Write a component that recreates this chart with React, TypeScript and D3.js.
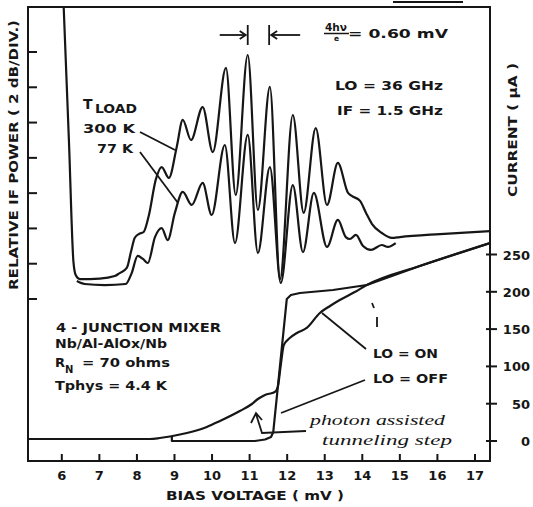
import * as d3 from "d3";

// Chart size and plot frame (pixels)
const width = 533;
const height = 507;
const frameLeft = 28;
const frameRight = 490;
const frameTop = 7;
const frameBottom = 461;

// IF output power vs bias, T_load = 300 K  (mV, dB)
const bias300K = [6.05, 6.19, 6.31, 6.37, 6.48, 7.01, 7.41, 7.54, 7.73, 7.84, 7.94, 8.05, 8.18, 8.32, 8.5, 8.66, 8.85, 9.06, 9.22, 9.44, 9.75, 10.02, 10.37, 10.63, 10.95, 11.22, 11.54, 11.81, 12.15, 12.44, 12.76, 13.06, 13.35, 13.62, 13.72, 13.94, 14.1, 14.26, 14.52, 14.79, 15.0, 16.07, 17.4];
const power300K = [16.55, 8.96, 2.1, 1.36, 1.13, 1.16, 1.3, 1.47, 1.76, 2.66, 3.46, 3.68, 3.8, 4.76, 6.75, 7.48, 6.86, 8.62, 10.15, 9.01, 10.88, 8.33, 13.1, 5.9, 13.83, 5.05, 12.02, 1.13, 10.43, 4.88, 9.69, 5.33, 7.71, 6.01, 5.84, 5.56, 4.88, 4.25, 3.74, 3.46, 3.51, 3.68, 3.85];

// T_load = 77 K
const bias77K = [6.4, 6.61, 7.15, 7.7, 7.86, 8.02, 8.16, 8.29, 8.48, 8.66, 8.82, 9.01, 9.22, 9.46, 9.75, 9.99, 10.34, 10.61, 10.95, 11.22, 11.54, 11.83, 12.15, 12.42, 12.71, 13.06, 13.35, 13.56, 13.67, 13.83, 14.02, 14.23, 14.52, 14.68, 14.89];
const power77K = [1.02, 0.85, 0.79, 0.85, 1.47, 2.44, 2.27, 2.04, 3.51, 4.02, 3.34, 4.88, 6.07, 5.33, 6.58, 4.76, 8.73, 3.17, 9.3, 2.61, 7.48, 0.91, 6.46, 2.66, 6.01, 2.95, 4.48, 3.51, 3.4, 3.63, 3.0, 2.78, 3.06, 2.95, 3.17];

// I-V curves (mV, uA)
const biasLoOn = [5.1, 8.34, 8.61, 8.88, 9.33, 9.86, 10.21, 10.74, 11.06, 11.22, 11.41, 11.67, 11.75, 11.83, 11.91, 12.07, 12.26, 12.52, 12.87, 13.14, 13.4, 13.8, 14.12, 15.53, 17.4];
const currentLoOn = [2.7, 2.7, 4.0, 6.0, 10.7, 18.8, 26.8, 40.2, 49.6, 56.3, 61.7, 65.7, 72.4, 101.9, 128.7, 138.1, 144.8, 151.5, 171.6, 181.0, 189.0, 199.7, 209.1, 234.6, 265.4];
const biasLoOff = [8.93, 8.93, 11.14, 11.41, 11.57, 11.63, 11.99, 12.1, 12.34, 13.22, 13.67, 14.12, 15.53, 17.4];
const currentLoOff = [5.4, 0, 0, 2.0, 5.4, 12.1, 190.4, 195.7, 198.4, 202.4, 205.8, 209.1, 234.6, 265.4];

// ticks
const biasTicks = [6, 7, 8, 9, 10, 11, 12, 13, 14, 15, 16, 17];
const powerTicks = [0, 2, 4, 6, 8, 10, 12, 14];
const currentTicks = [0, 50, 100, 150, 200, 250];

// 4hv/e marker positions (mV)
const stepLeft = 10.95;
const stepRight = 11.52;

const ink = "#161616";
const font = "'DejaVu Sans', sans-serif";
const hand = "'Liberation Serif', serif";

const x = d3.scaleLinear().domain([5.1, 17.4]).range([frameLeft, frameRight]);
const yPow = d3.scaleLinear().domain([0, 14]).range([299, 52]);
const yCur = d3.scaleLinear().domain([0, 250]).range([441, 254.5]);

const powerLine = d3
  .line<[number, number]>()
  .x((d) => x(d[0]))
  .y((d) => yPow(d[1]))
  .curve(d3.curveMonotoneX);

const onLine = d3
  .line<[number, number]>()
  .x((d) => x(d[0]))
  .y((d) => yCur(d[1]))
  .curve(d3.curveMonotoneX);

const offLine = d3
  .line<[number, number]>()
  .x((d) => x(d[0]))
  .y((d) => yCur(d[1]));

const zip = (a: number[], b: number[]) => a.map((v, i) => [v, b[i]] as [number, number]);

const Label = (p: any) => (
  <text
    fontFamily={font}
    fontWeight="bold"
    fill={ink}
    lengthAdjust="spacingAndGlyphs"
    {...p}
  />
);

export default function App() {
  return (
    <svg
      width={width}
      height={height}
      style={{ position: "absolute", left: 0, top: 0, display: "block", background: "#fff" }}
    >
      <defs>
        <clipPath id="plot">
          <rect x={frameLeft} y={frameTop} width={frameRight - frameLeft} height={frameBottom - frameTop} />
        </clipPath>
      </defs>

      {/* stray mark above frame */}
      <line x1={393} x2={463} y1={2} y2={2} stroke={ink} strokeWidth={2} />

      {/* frame */}
      <rect
        x={frameLeft}
        y={frameTop}
        width={frameRight - frameLeft}
        height={frameBottom - frameTop}
        fill="none"
        stroke={ink}
        strokeWidth={2}
      />

      {/* left ticks */}
      {powerTicks.map((t) => (
        <line key={t} x1={frameLeft} x2={frameLeft + 9} y1={yPow(t)} y2={yPow(t)} stroke={ink} strokeWidth={2} />
      ))}
      {/* bottom ticks */}
      {biasTicks.map((t) => (
        <g key={t}>
          <line x1={x(t)} x2={x(t)} y1={frameBottom} y2={frameBottom - 7} stroke={ink} strokeWidth={2} />
          <Label x={x(t)} y={480} fontSize={13} textAnchor="middle">{t}</Label>
        </g>
      ))}
      {/* right ticks */}
      {currentTicks.map((t) => (
        <g key={t}>
          <line x1={frameRight - 4} x2={frameRight + 7} y1={yCur(t)} y2={yCur(t)} stroke={ink} strokeWidth={2} />
          <Label x={530} y={yCur(t) + 5} fontSize={13} textAnchor="end">{t}</Label>
        </g>
      ))}

      <g clipPath="url(#plot)" fill="none" stroke={ink} strokeWidth={2.2} strokeLinejoin="round">
        <path d={powerLine(zip(bias300K, power300K)) ?? ""} />
        <path d={powerLine(zip(bias77K, power77K)) ?? ""} />
        <path d={onLine(zip(biasLoOn, currentLoOn)) ?? ""} />
        <path d={offLine(zip(biasLoOff, currentLoOff)) ?? ""} />
      </g>

      {/* pointers */}
      <g stroke={ink} strokeWidth={1.8} fill="none">
        <line x1={140} y1={132} x2={175} y2={150} />
        <line x1={140} y1={152} x2={178} y2={203} />
        <line x1={366} y1={349} x2={322} y2={313} />
        <line x1={365} y1={380} x2={281} y2={413} />
        <path d="M306,431 L262,433 L256,414 M251,423 L256,413 L262,420" />
        <line x1={377} y1={317} x2={377} y2={327} />
        <line x1={372} y1={303} x2={374} y2={308} />
        {/* 4hv/e spacing markers */}
        <line x1={x(stepLeft)} x2={x(stepLeft)} y1={25} y2={45} />
        <line x1={x(stepRight)} x2={x(stepRight)} y1={25} y2={45} />
        <line x1={x(stepLeft) - 28} x2={x(stepLeft) - 2} y1={35} y2={35} />
        <line x1={x(stepRight) + 2} x2={x(stepRight) + 31} y1={35} y2={35} />
        <path d={`M${x(stepLeft) - 8},31 L${x(stepLeft) - 2},35 L${x(stepLeft) - 8},39`} />
        <path d={`M${x(stepRight) + 8},31 L${x(stepRight) + 2},35 L${x(stepRight) + 8},39`} />
        <line x1={324} x2={349} y1={33.5} y2={33.5} strokeWidth={1.5} />
      </g>

      <Label x={325} y={31} fontSize={10} textLength={22}>4hν</Label>
      <Label x={334} y={41} fontSize={7.5}>e</Label>
      <Label x={348} y={38} fontSize={12.5} textLength={100}>= 0.60 mV</Label>

      <Label x={335} y={90} fontSize={13} textLength={108}>LO = 36 GHz</Label>
      <Label x={337} y={115} fontSize={13} textLength={106}>IF = 1.5 GHz</Label>

      <Label x={83} y={109} fontSize={14}>T</Label>
      <Label x={95} y={113} fontSize={11.5} textLength={42}>LOAD</Label>
      <Label x={83} y={133} fontSize={13} textLength={52}>300 K</Label>
      <Label x={97} y={153} fontSize={13} textLength={36}>77 K</Label>

      <Label x={56} y={332} fontSize={12.5} textLength={165}>4 - JUNCTION MIXER</Label>
      <Label x={55} y={348} fontSize={12} textLength={112}>Nb/Al-AlOx/Nb</Label>
      <Label x={55} y={367} fontSize={13}>R</Label>
      <Label x={65} y={373} fontSize={10}>N</Label>
      <Label x={82} y={367} fontSize={13} textLength={88}>= 70 ohms</Label>
      <Label x={55} y={390} fontSize={13} textLength={112}>Tphys = 4.4 K</Label>

      <Label x={373} y={358} fontSize={13} textLength={65}>LO = ON</Label>
      <Label x={373} y={383} fontSize={13} textLength={75}>LO = OFF</Label>

      <text x={310} y={425} fontFamily={hand} fontStyle="italic" fontSize={15.5} fill={ink} textLength={135} lengthAdjust="spacingAndGlyphs">
        photon assisted
      </text>
      <text x={322} y={445} fontFamily={hand} fontStyle="italic" fontSize={15.5} fill={ink} textLength={130} lengthAdjust="spacingAndGlyphs">
        tunneling step
      </text>

      <Label x={255} y={500} fontSize={13} textAnchor="middle" textLength={178}>BIAS VOLTAGE ( mV )</Label>
      <Label transform="translate(17.5,155) rotate(-90)" x={0} y={0} fontSize={12.5} textAnchor="middle" textLength={270}>
        RELATIVE IF POWER ( 2 dB/DIV.)
      </Label>
      <Label transform="translate(516.5,130) rotate(-90)" x={0} y={0} fontSize={13} textAnchor="middle" textLength={134}>
        CURRENT ( μA )
      </Label>
    </svg>
  );
}
